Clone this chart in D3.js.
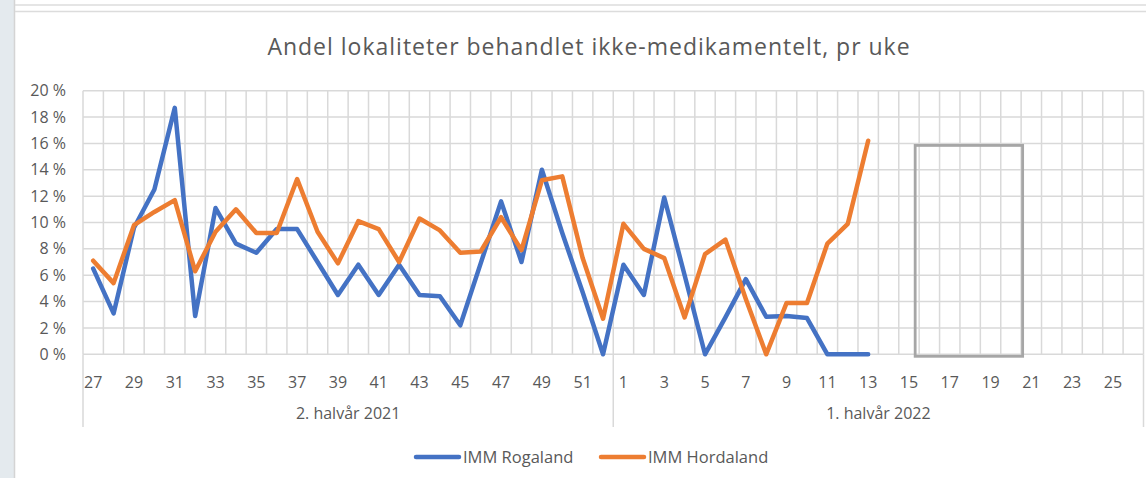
<!doctype html>
<html>
<head>
<meta charset="utf-8">
<style>
body { margin: 0; background: #fff; }
svg { display: block; font-family: "Open Sans", "Noto Sans", sans-serif; }
.grid line { stroke: #d9d9d9; stroke-width: 1.5; }
.tick-label { fill: #595959; font-size: 16px; }
.legend text { font-size: 16.5px; }
.title { fill: #595959; font-size: 23px; letter-spacing: 1px; }
.series { fill: none; stroke-width: 4.5; stroke-linejoin: round; stroke-linecap: round; }
</style>
</head>
<body>
<div id="chart"></div>
<script src="https://cdn.jsdelivr.net/npm/d3@7"></script>
<script>
// categories: weeks of each half-year
var weeks2021 = d3.range(27, 53);
var weeks2022 = d3.range(1, 27);
var groups = ['2. halvår 2021', '1. halvår 2022'];
var seriesNames = ['IMM Rogaland', 'IMM Hordaland'];
var seriesColors = ['#4472c4', '#ed7d31'];
var yTicks = [0, 2, 4, 6, 8, 10, 12, 14, 16, 18, 20];

// share (%) per week
var rogaland2021 = [6.5, 3.1, 9.6, 12.5, 18.7, 2.9, 11.1, 8.4, 7.7, 9.5, 9.5, 7.0, 4.5,
    6.8, 4.5, 6.8, 4.5, 4.4, 2.2, 6.9, 11.6, 7.0, 14.0, 9.2, 4.7, 0];
var rogaland2022 = [6.8, 4.5, 11.9, 6.0, 0, 2.8, 5.7, 2.85, 2.9, 2.75, 0, 0, 0];
var hordaland2021 = [7.1, 5.4, 9.8, 10.8, 11.7, 6.3, 9.3, 11.0, 9.2, 9.2, 13.3, 9.3, 6.9,
    10.1, 9.5, 7.0, 10.3, 9.4, 7.7, 7.8, 10.4, 7.9, 13.2, 13.5, 7.3, 2.7];
var hordaland2022 = [9.9, 8.0, 7.3, 2.8, 7.6, 8.7, 4.2, 0, 3.9, 3.9, 8.4, 9.9, 16.2];

// highlighted (empty) period in 2022, weeks 16-20, up to 16 %
var boxWeeks = [16, 20];
var boxTop = 16;
</script>
<script>
var width = 1146;
var height = 478;

var keys = weeks2021.map(function (w) { return '2021-' + w; })
    .concat(weeks2022.map(function (w) { return '2022-' + w; }));

function toPoints(vals2021, vals2022) {
    var pts = [];
    vals2021.forEach(function (v, i) { pts.push({ key: '2021-' + weeks2021[i], v: v }); });
    vals2022.forEach(function (v, i) { pts.push({ key: '2022-' + weeks2022[i], v: v }); });
    return pts;
}
var series = [
    toPoints(rogaland2021, rogaland2022),
    toPoints(hordaland2021, hordaland2022)
];

var x = d3.scaleBand().domain(keys).range([83, 1143.5]).padding(0);
var y = d3.scaleLinear().domain([0, 20]).range([354.3, 90.7]);
var bw = x.bandwidth();
var cx = function (k) { return x(k) + bw / 2; };

var svg = d3.select('#chart').append('svg')
    .attr('width', width)
    .attr('height', height);

// window frame bits
svg.append('rect').attr('x', 0).attr('y', 0).attr('width', 14).attr('height', height).attr('fill', '#e4eaee');
svg.append('line').attr('x1', 14.5).attr('x2', 14.5).attr('y1', 0).attr('y2', height)
    .attr('stroke', '#d4d4d4').attr('stroke-width', 1.5);
[5, 11.5].forEach(function (yy) {
    svg.append('line').attr('x1', 15).attr('x2', width).attr('y1', yy).attr('y2', yy)
        .attr('stroke', '#dcdcdc').attr('stroke-width', 1.5);
});

svg.append('text').attr('class', 'title')
    .attr('x', 589).attr('y', 55)
    .attr('text-anchor', 'middle')
    .text('Andel lokaliteter behandlet ikke-medikamentelt, pr uke');

// gridlines
var grid = svg.append('g').attr('class', 'grid');
grid.selectAll('line.h').data(yTicks).enter().append('line')
    .attr('class', 'h')
    .attr('x1', x.range()[0]).attr('x2', x.range()[1])
    .attr('y1', function (d) { return y(d); }).attr('y2', function (d) { return y(d); });
grid.selectAll('line.v').data(keys.concat(['end'])).enter().append('line')
    .attr('class', 'v')
    .attr('x1', function (d) { return d === 'end' ? x.range()[1] : x(d); })
    .attr('x2', function (d) { return d === 'end' ? x.range()[1] : x(d); })
    .attr('y1', y(20)).attr('y2', y(0));

// group separators below the axis
var sepX = [x.range()[0], x('2022-1'), x.range()[1]];
grid.selectAll('line.sep').data(sepX).enter().append('line')
    .attr('class', 'sep')
    .attr('x1', function (d) { return d; }).attr('x2', function (d) { return d; })
    .attr('y1', y(0)).attr('y2', 427);

// y labels
svg.selectAll('text.ylab').data(yTicks).enter().append('text')
    .attr('class', 'tick-label ylab')
    .attr('x', 66)
    .attr('y', function (d) { return y(d); })
    .attr('dy', '0.35em')
    .attr('text-anchor', 'end')
    .text(function (d) { return d + ' %'; });

// x labels (every other week)
svg.selectAll('text.xlab').data(keys.filter(function (k, i) { return i % 2 === 0; }))
    .enter().append('text')
    .attr('class', 'tick-label xlab')
    .attr('x', function (k) { return cx(k); })
    .attr('y', 382)
    .attr('dy', '0.35em')
    .attr('text-anchor', 'middle')
    .text(function (k) { return k.split('-')[1]; });

// group labels
var groupSpans = [[sepX[0], sepX[1]], [sepX[1], sepX[2]]];
svg.selectAll('text.glab').data(groups).enter().append('text')
    .attr('class', 'tick-label glab')
    .attr('x', function (d, i) { return (groupSpans[i][0] + groupSpans[i][1]) / 2; })
    .attr('y', 413)
    .attr('dy', '0.35em')
    .attr('text-anchor', 'middle')
    .text(function (d) { return d; });

// annotation box
svg.append('rect')
    .attr('x', x('2022-' + boxWeeks[0]) - 4)
    .attr('y', y(boxTop) + 2)
    .attr('width', x('2022-' + (boxWeeks[1] + 1)) + 1.5 - (x('2022-' + boxWeeks[0]) - 4))
    .attr('height', y(0) + 2 - (y(boxTop) + 2))
    .attr('fill', 'none')
    .attr('stroke', '#a6a6a6')
    .attr('stroke-width', 2.8);

// lines
var line = d3.line()
    .x(function (d) { return cx(d.key); })
    .y(function (d) { return y(d.v); });
svg.selectAll('path.series').data(series).enter().append('path')
    .attr('class', 'series')
    .attr('stroke', function (d, i) { return seriesColors[i]; })
    .attr('d', line);

// legend
var legendX = [416, 601];
var legend = svg.selectAll('g.legend').data(seriesNames).enter().append('g')
    .attr('class', 'legend')
    .attr('transform', function (d, i) { return 'translate(' + legendX[i] + ',457)'; });
legend.append('line')
    .attr('x1', 0).attr('x2', 43)
    .attr('stroke', function (d, i) { return seriesColors[i]; })
    .attr('stroke-width', 4.5)
    .attr('stroke-linecap', 'round');
legend.append('text')
    .attr('class', 'tick-label')
    .attr('x', 47)
    .attr('dy', '0.35em')
    .text(function (d) { return d; });
</script>
</body>
</html>
